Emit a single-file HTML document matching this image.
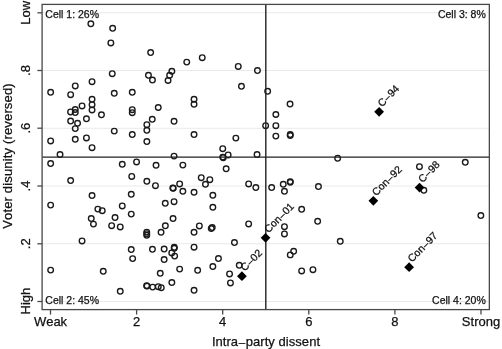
<!DOCTYPE html><html><head><meta charset="utf-8"><title>Scatter</title>
<style>html,body{margin:0;padding:0;background:#fff;}svg{display:block;}text{font-kerning:none;font-family:"Liberation Sans",Arial,Helvetica,sans-serif;fill:#111;stroke:#111;stroke-width:0.25px;}</style></head><body>
<svg width="502" height="349" viewBox="0 0 502 349">
<rect x="0" y="0" width="502" height="349" fill="#fff"/>
<line x1="42.1" x2="489.35" y1="301.5" y2="301.5" stroke="#e9e9e9" stroke-width="1.1"/>
<line x1="42.1" x2="489.35" y1="243.8" y2="243.8" stroke="#e9e9e9" stroke-width="1.1"/>
<line x1="42.1" x2="489.35" y1="186.0" y2="186.0" stroke="#e9e9e9" stroke-width="1.1"/>
<line x1="42.1" x2="489.35" y1="128.2" y2="128.2" stroke="#e9e9e9" stroke-width="1.1"/>
<line x1="42.1" x2="489.35" y1="70.5" y2="70.5" stroke="#e9e9e9" stroke-width="1.1"/>
<line x1="42.1" x2="489.35" y1="12.8" y2="12.8" stroke="#e9e9e9" stroke-width="1.1"/>
<circle cx="90.85" cy="23.8" r="2.8" fill="none" stroke="#1a1a1a" stroke-width="1.35"/>
<circle cx="112.65" cy="28.3" r="2.8" fill="none" stroke="#1a1a1a" stroke-width="1.35"/>
<circle cx="110.85" cy="42.9" r="2.8" fill="none" stroke="#1a1a1a" stroke-width="1.35"/>
<circle cx="150.65" cy="52.5" r="2.8" fill="none" stroke="#1a1a1a" stroke-width="1.35"/>
<circle cx="186.75" cy="62.1" r="2.8" fill="none" stroke="#1a1a1a" stroke-width="1.35"/>
<circle cx="202.25" cy="57.7" r="2.8" fill="none" stroke="#1a1a1a" stroke-width="1.35"/>
<circle cx="238.25" cy="66.4" r="2.8" fill="none" stroke="#1a1a1a" stroke-width="1.35"/>
<circle cx="171.85" cy="71.3" r="2.8" fill="none" stroke="#1a1a1a" stroke-width="1.35"/>
<circle cx="257.45" cy="70.6" r="2.8" fill="none" stroke="#1a1a1a" stroke-width="1.35"/>
<circle cx="112.25" cy="73.7" r="2.8" fill="none" stroke="#1a1a1a" stroke-width="1.35"/>
<circle cx="92.05" cy="81.7" r="2.8" fill="none" stroke="#1a1a1a" stroke-width="1.35"/>
<circle cx="75.25" cy="85.9" r="2.8" fill="none" stroke="#1a1a1a" stroke-width="1.35"/>
<circle cx="50.65" cy="92.3" r="2.8" fill="none" stroke="#1a1a1a" stroke-width="1.35"/>
<circle cx="70.65" cy="94.7" r="2.8" fill="none" stroke="#1a1a1a" stroke-width="1.35"/>
<circle cx="114.25" cy="93.3" r="2.8" fill="none" stroke="#1a1a1a" stroke-width="1.35"/>
<circle cx="132.25" cy="92.3" r="2.8" fill="none" stroke="#1a1a1a" stroke-width="1.35"/>
<circle cx="92.05" cy="99.3" r="2.8" fill="none" stroke="#1a1a1a" stroke-width="1.35"/>
<circle cx="92.05" cy="104.7" r="2.8" fill="none" stroke="#1a1a1a" stroke-width="1.35"/>
<circle cx="92.05" cy="109.9" r="2.8" fill="none" stroke="#1a1a1a" stroke-width="1.35"/>
<circle cx="82.05" cy="105.9" r="2.8" fill="none" stroke="#1a1a1a" stroke-width="1.35"/>
<circle cx="75.25" cy="109.5" r="2.8" fill="none" stroke="#1a1a1a" stroke-width="1.35"/>
<circle cx="75.25" cy="112.6" r="2.8" fill="none" stroke="#1a1a1a" stroke-width="1.35"/>
<circle cx="70.55" cy="111.9" r="2.8" fill="none" stroke="#1a1a1a" stroke-width="1.35"/>
<circle cx="132.25" cy="109.7" r="2.8" fill="none" stroke="#1a1a1a" stroke-width="1.35"/>
<circle cx="132.25" cy="112.7" r="2.8" fill="none" stroke="#1a1a1a" stroke-width="1.35"/>
<circle cx="101.45" cy="114.8" r="2.8" fill="none" stroke="#1a1a1a" stroke-width="1.35"/>
<circle cx="86.45" cy="118.8" r="2.8" fill="none" stroke="#1a1a1a" stroke-width="1.35"/>
<circle cx="70.65" cy="121.1" r="2.8" fill="none" stroke="#1a1a1a" stroke-width="1.35"/>
<circle cx="77.55" cy="123.3" r="2.8" fill="none" stroke="#1a1a1a" stroke-width="1.35"/>
<circle cx="75.25" cy="128.6" r="2.8" fill="none" stroke="#1a1a1a" stroke-width="1.35"/>
<circle cx="114.25" cy="131.1" r="2.8" fill="none" stroke="#1a1a1a" stroke-width="1.35"/>
<circle cx="169.65" cy="75.3" r="2.8" fill="none" stroke="#1a1a1a" stroke-width="1.35"/>
<circle cx="168.05" cy="80.5" r="2.8" fill="none" stroke="#1a1a1a" stroke-width="1.35"/>
<circle cx="148.45" cy="75.3" r="2.8" fill="none" stroke="#1a1a1a" stroke-width="1.35"/>
<circle cx="152.45" cy="80.1" r="2.8" fill="none" stroke="#1a1a1a" stroke-width="1.35"/>
<circle cx="194.05" cy="99.3" r="2.8" fill="none" stroke="#1a1a1a" stroke-width="1.35"/>
<circle cx="194.05" cy="104.3" r="2.8" fill="none" stroke="#1a1a1a" stroke-width="1.35"/>
<circle cx="158.25" cy="107.5" r="2.8" fill="none" stroke="#1a1a1a" stroke-width="1.35"/>
<circle cx="152.25" cy="119.3" r="2.8" fill="none" stroke="#1a1a1a" stroke-width="1.35"/>
<circle cx="174.05" cy="121.3" r="2.8" fill="none" stroke="#1a1a1a" stroke-width="1.35"/>
<circle cx="146.85" cy="124.7" r="2.8" fill="none" stroke="#1a1a1a" stroke-width="1.35"/>
<circle cx="146.85" cy="130.3" r="2.8" fill="none" stroke="#1a1a1a" stroke-width="1.35"/>
<circle cx="241.45" cy="86.3" r="2.8" fill="none" stroke="#1a1a1a" stroke-width="1.35"/>
<circle cx="267.65" cy="91.3" r="2.8" fill="none" stroke="#1a1a1a" stroke-width="1.35"/>
<circle cx="290.05" cy="104.1" r="2.8" fill="none" stroke="#1a1a1a" stroke-width="1.35"/>
<circle cx="275.85" cy="114.5" r="2.8" fill="none" stroke="#1a1a1a" stroke-width="1.35"/>
<circle cx="265.65" cy="125.7" r="2.8" fill="none" stroke="#1a1a1a" stroke-width="1.35"/>
<circle cx="275.85" cy="125.7" r="2.8" fill="none" stroke="#1a1a1a" stroke-width="1.35"/>
<circle cx="132.25" cy="134.5" r="2.8" fill="none" stroke="#1a1a1a" stroke-width="1.35"/>
<circle cx="50.65" cy="140.9" r="2.8" fill="none" stroke="#1a1a1a" stroke-width="1.35"/>
<circle cx="75.25" cy="139.3" r="2.8" fill="none" stroke="#1a1a1a" stroke-width="1.35"/>
<circle cx="86.45" cy="137.9" r="2.8" fill="none" stroke="#1a1a1a" stroke-width="1.35"/>
<circle cx="92.05" cy="147.7" r="2.8" fill="none" stroke="#1a1a1a" stroke-width="1.35"/>
<circle cx="60.05" cy="154.5" r="2.8" fill="none" stroke="#1a1a1a" stroke-width="1.35"/>
<circle cx="50.65" cy="163.5" r="2.8" fill="none" stroke="#1a1a1a" stroke-width="1.35"/>
<circle cx="122.25" cy="164.3" r="2.8" fill="none" stroke="#1a1a1a" stroke-width="1.35"/>
<circle cx="136.55" cy="161.9" r="2.8" fill="none" stroke="#1a1a1a" stroke-width="1.35"/>
<circle cx="131.75" cy="176.4" r="2.8" fill="none" stroke="#1a1a1a" stroke-width="1.35"/>
<circle cx="70.65" cy="180.5" r="2.8" fill="none" stroke="#1a1a1a" stroke-width="1.35"/>
<circle cx="92.05" cy="195.5" r="2.8" fill="none" stroke="#1a1a1a" stroke-width="1.35"/>
<circle cx="131.25" cy="194.3" r="2.8" fill="none" stroke="#1a1a1a" stroke-width="1.35"/>
<circle cx="146.85" cy="141.5" r="2.8" fill="none" stroke="#1a1a1a" stroke-width="1.35"/>
<circle cx="194.05" cy="134.5" r="2.8" fill="none" stroke="#1a1a1a" stroke-width="1.35"/>
<circle cx="222.75" cy="148.7" r="2.8" fill="none" stroke="#1a1a1a" stroke-width="1.35"/>
<circle cx="228.15" cy="154.9" r="2.8" fill="none" stroke="#1a1a1a" stroke-width="1.35"/>
<circle cx="222.75" cy="157.1" r="2.8" fill="none" stroke="#1a1a1a" stroke-width="1.35"/>
<circle cx="223.25" cy="157.7" r="2.8" fill="none" stroke="#1a1a1a" stroke-width="1.35"/>
<circle cx="174.05" cy="156.1" r="2.8" fill="none" stroke="#1a1a1a" stroke-width="1.35"/>
<circle cx="156.05" cy="165.3" r="2.8" fill="none" stroke="#1a1a1a" stroke-width="1.35"/>
<circle cx="182.85" cy="165.1" r="2.8" fill="none" stroke="#1a1a1a" stroke-width="1.35"/>
<circle cx="226.15" cy="168.8" r="2.8" fill="none" stroke="#1a1a1a" stroke-width="1.35"/>
<circle cx="146.85" cy="181.3" r="2.8" fill="none" stroke="#1a1a1a" stroke-width="1.35"/>
<circle cx="155.45" cy="185.7" r="2.8" fill="none" stroke="#1a1a1a" stroke-width="1.35"/>
<circle cx="201.25" cy="177.7" r="2.8" fill="none" stroke="#1a1a1a" stroke-width="1.35"/>
<circle cx="209.85" cy="179.7" r="2.8" fill="none" stroke="#1a1a1a" stroke-width="1.35"/>
<circle cx="205.45" cy="184.3" r="2.8" fill="none" stroke="#1a1a1a" stroke-width="1.35"/>
<circle cx="179.65" cy="183.9" r="2.8" fill="none" stroke="#1a1a1a" stroke-width="1.35"/>
<circle cx="172.85" cy="187.9" r="2.8" fill="none" stroke="#1a1a1a" stroke-width="1.35"/>
<circle cx="173.25" cy="188.3" r="2.8" fill="none" stroke="#1a1a1a" stroke-width="1.35"/>
<circle cx="182.85" cy="191.3" r="2.8" fill="none" stroke="#1a1a1a" stroke-width="1.35"/>
<circle cx="194.05" cy="192.3" r="2.8" fill="none" stroke="#1a1a1a" stroke-width="1.35"/>
<circle cx="212.85" cy="195.3" r="2.8" fill="none" stroke="#1a1a1a" stroke-width="1.35"/>
<circle cx="275.85" cy="136.1" r="2.8" fill="none" stroke="#1a1a1a" stroke-width="1.35"/>
<circle cx="290.25" cy="134.5" r="2.8" fill="none" stroke="#1a1a1a" stroke-width="1.35"/>
<circle cx="290.25" cy="135.5" r="2.8" fill="none" stroke="#1a1a1a" stroke-width="1.35"/>
<circle cx="235.85" cy="138.1" r="2.8" fill="none" stroke="#1a1a1a" stroke-width="1.35"/>
<circle cx="257.05" cy="154.5" r="2.8" fill="none" stroke="#1a1a1a" stroke-width="1.35"/>
<circle cx="248.65" cy="183.9" r="2.8" fill="none" stroke="#1a1a1a" stroke-width="1.35"/>
<circle cx="255.85" cy="187.5" r="2.8" fill="none" stroke="#1a1a1a" stroke-width="1.35"/>
<circle cx="271.65" cy="187.5" r="2.8" fill="none" stroke="#1a1a1a" stroke-width="1.35"/>
<circle cx="283.25" cy="184.3" r="2.8" fill="none" stroke="#1a1a1a" stroke-width="1.35"/>
<circle cx="290.25" cy="181.6" r="2.8" fill="none" stroke="#1a1a1a" stroke-width="1.35"/>
<circle cx="290.25" cy="182.3" r="2.8" fill="none" stroke="#1a1a1a" stroke-width="1.35"/>
<circle cx="284.45" cy="191.3" r="2.8" fill="none" stroke="#1a1a1a" stroke-width="1.35"/>
<circle cx="337.65" cy="158.3" r="2.8" fill="none" stroke="#1a1a1a" stroke-width="1.35"/>
<circle cx="318.45" cy="186.5" r="2.8" fill="none" stroke="#1a1a1a" stroke-width="1.35"/>
<circle cx="465.25" cy="162.3" r="2.8" fill="none" stroke="#1a1a1a" stroke-width="1.35"/>
<circle cx="419.45" cy="166.7" r="2.8" fill="none" stroke="#1a1a1a" stroke-width="1.35"/>
<circle cx="423.85" cy="190.3" r="2.8" fill="none" stroke="#1a1a1a" stroke-width="1.35"/>
<circle cx="50.65" cy="205.1" r="2.8" fill="none" stroke="#1a1a1a" stroke-width="1.35"/>
<circle cx="122.25" cy="205.9" r="2.8" fill="none" stroke="#1a1a1a" stroke-width="1.35"/>
<circle cx="97.85" cy="209.1" r="2.8" fill="none" stroke="#1a1a1a" stroke-width="1.35"/>
<circle cx="102.25" cy="210.7" r="2.8" fill="none" stroke="#1a1a1a" stroke-width="1.35"/>
<circle cx="131.25" cy="214.1" r="2.8" fill="none" stroke="#1a1a1a" stroke-width="1.35"/>
<circle cx="91.25" cy="218.5" r="2.8" fill="none" stroke="#1a1a1a" stroke-width="1.35"/>
<circle cx="115.05" cy="217.5" r="2.8" fill="none" stroke="#1a1a1a" stroke-width="1.35"/>
<circle cx="93.45" cy="224.1" r="2.8" fill="none" stroke="#1a1a1a" stroke-width="1.35"/>
<circle cx="111.65" cy="225.7" r="2.8" fill="none" stroke="#1a1a1a" stroke-width="1.35"/>
<circle cx="120.25" cy="226.9" r="2.8" fill="none" stroke="#1a1a1a" stroke-width="1.35"/>
<circle cx="82.05" cy="240.9" r="2.8" fill="none" stroke="#1a1a1a" stroke-width="1.35"/>
<circle cx="131.25" cy="249.5" r="2.8" fill="none" stroke="#1a1a1a" stroke-width="1.35"/>
<circle cx="132.65" cy="258.6" r="2.8" fill="none" stroke="#1a1a1a" stroke-width="1.35"/>
<circle cx="165.25" cy="203.3" r="2.8" fill="none" stroke="#1a1a1a" stroke-width="1.35"/>
<circle cx="174.05" cy="201.7" r="2.8" fill="none" stroke="#1a1a1a" stroke-width="1.35"/>
<circle cx="212.85" cy="207.3" r="2.8" fill="none" stroke="#1a1a1a" stroke-width="1.35"/>
<circle cx="173.05" cy="218.5" r="2.8" fill="none" stroke="#1a1a1a" stroke-width="1.35"/>
<circle cx="165.35" cy="225.8" r="2.8" fill="none" stroke="#1a1a1a" stroke-width="1.35"/>
<circle cx="199.35" cy="225.9" r="2.8" fill="none" stroke="#1a1a1a" stroke-width="1.35"/>
<circle cx="212.25" cy="227.5" r="2.8" fill="none" stroke="#1a1a1a" stroke-width="1.35"/>
<circle cx="211.25" cy="228.5" r="2.8" fill="none" stroke="#1a1a1a" stroke-width="1.35"/>
<circle cx="161.05" cy="232.3" r="2.8" fill="none" stroke="#1a1a1a" stroke-width="1.35"/>
<circle cx="194.05" cy="232.3" r="2.8" fill="none" stroke="#1a1a1a" stroke-width="1.35"/>
<circle cx="146.75" cy="232.1" r="2.8" fill="none" stroke="#1a1a1a" stroke-width="1.35"/>
<circle cx="146.75" cy="233.7" r="2.8" fill="none" stroke="#1a1a1a" stroke-width="1.35"/>
<circle cx="146.75" cy="235.3" r="2.8" fill="none" stroke="#1a1a1a" stroke-width="1.35"/>
<circle cx="152.45" cy="249.3" r="2.8" fill="none" stroke="#1a1a1a" stroke-width="1.35"/>
<circle cx="164.15" cy="249.0" r="2.8" fill="none" stroke="#1a1a1a" stroke-width="1.35"/>
<circle cx="174.25" cy="247.3" r="2.8" fill="none" stroke="#1a1a1a" stroke-width="1.35"/>
<circle cx="174.25" cy="248.3" r="2.8" fill="none" stroke="#1a1a1a" stroke-width="1.35"/>
<circle cx="171.75" cy="252.9" r="2.8" fill="none" stroke="#1a1a1a" stroke-width="1.35"/>
<circle cx="174.65" cy="256.1" r="2.8" fill="none" stroke="#1a1a1a" stroke-width="1.35"/>
<circle cx="194.05" cy="247.2" r="2.8" fill="none" stroke="#1a1a1a" stroke-width="1.35"/>
<circle cx="164.15" cy="259.5" r="2.8" fill="none" stroke="#1a1a1a" stroke-width="1.35"/>
<circle cx="218.45" cy="258.5" r="2.8" fill="none" stroke="#1a1a1a" stroke-width="1.35"/>
<circle cx="301.65" cy="209.3" r="2.8" fill="none" stroke="#1a1a1a" stroke-width="1.35"/>
<circle cx="248.65" cy="223.9" r="2.8" fill="none" stroke="#1a1a1a" stroke-width="1.35"/>
<circle cx="284.45" cy="226.7" r="2.8" fill="none" stroke="#1a1a1a" stroke-width="1.35"/>
<circle cx="284.45" cy="233.9" r="2.8" fill="none" stroke="#1a1a1a" stroke-width="1.35"/>
<circle cx="234.45" cy="242.5" r="2.8" fill="none" stroke="#1a1a1a" stroke-width="1.35"/>
<circle cx="293.65" cy="251.3" r="2.8" fill="none" stroke="#1a1a1a" stroke-width="1.35"/>
<circle cx="290.25" cy="254.9" r="2.8" fill="none" stroke="#1a1a1a" stroke-width="1.35"/>
<circle cx="317.65" cy="221.3" r="2.8" fill="none" stroke="#1a1a1a" stroke-width="1.35"/>
<circle cx="340.25" cy="241.3" r="2.8" fill="none" stroke="#1a1a1a" stroke-width="1.35"/>
<circle cx="480.85" cy="215.5" r="2.8" fill="none" stroke="#1a1a1a" stroke-width="1.35"/>
<circle cx="50.65" cy="270.1" r="2.8" fill="none" stroke="#1a1a1a" stroke-width="1.35"/>
<circle cx="103.25" cy="271.3" r="2.8" fill="none" stroke="#1a1a1a" stroke-width="1.35"/>
<circle cx="120.25" cy="291.3" r="2.8" fill="none" stroke="#1a1a1a" stroke-width="1.35"/>
<circle cx="212.85" cy="266.5" r="2.8" fill="none" stroke="#1a1a1a" stroke-width="1.35"/>
<circle cx="179.65" cy="269.1" r="2.8" fill="none" stroke="#1a1a1a" stroke-width="1.35"/>
<circle cx="197.65" cy="270.3" r="2.8" fill="none" stroke="#1a1a1a" stroke-width="1.35"/>
<circle cx="160.25" cy="273.3" r="2.8" fill="none" stroke="#1a1a1a" stroke-width="1.35"/>
<circle cx="171.85" cy="282.5" r="2.8" fill="none" stroke="#1a1a1a" stroke-width="1.35"/>
<circle cx="146.65" cy="285.7" r="2.8" fill="none" stroke="#1a1a1a" stroke-width="1.35"/>
<circle cx="147.05" cy="286.1" r="2.8" fill="none" stroke="#1a1a1a" stroke-width="1.35"/>
<circle cx="152.65" cy="287.1" r="2.8" fill="none" stroke="#1a1a1a" stroke-width="1.35"/>
<circle cx="158.25" cy="286.7" r="2.8" fill="none" stroke="#1a1a1a" stroke-width="1.35"/>
<circle cx="161.25" cy="287.7" r="2.8" fill="none" stroke="#1a1a1a" stroke-width="1.35"/>
<circle cx="194.05" cy="290.3" r="2.8" fill="none" stroke="#1a1a1a" stroke-width="1.35"/>
<circle cx="229.55" cy="273.9" r="2.8" fill="none" stroke="#1a1a1a" stroke-width="1.35"/>
<circle cx="230.45" cy="282.9" r="2.8" fill="none" stroke="#1a1a1a" stroke-width="1.35"/>
<circle cx="239.25" cy="265.3" r="2.8" fill="none" stroke="#1a1a1a" stroke-width="1.35"/>
<circle cx="301.65" cy="270.9" r="2.8" fill="none" stroke="#1a1a1a" stroke-width="1.35"/>
<circle cx="312.95" cy="269.7" r="2.8" fill="none" stroke="#1a1a1a" stroke-width="1.35"/>
<line x1="265.8" x2="265.8" y1="4.4" y2="309.6" stroke="#222" stroke-width="1.4"/>
<line x1="42.1" x2="489.35" y1="157.1" y2="157.1" stroke="#222" stroke-width="1.4"/>
<rect x="42.1" y="4.4" width="447.25" height="305.20000000000005" fill="none" stroke="#484848" stroke-width="1.3"/>
<line x1="50.5" x2="50.5" y1="309.6" y2="314.6" stroke="#484848" stroke-width="1.3"/>
<line x1="136.6" x2="136.6" y1="309.6" y2="314.6" stroke="#484848" stroke-width="1.3"/>
<line x1="222.7" x2="222.7" y1="309.6" y2="314.6" stroke="#484848" stroke-width="1.3"/>
<line x1="308.8" x2="308.8" y1="309.6" y2="314.6" stroke="#484848" stroke-width="1.3"/>
<line x1="394.9" x2="394.9" y1="309.6" y2="314.6" stroke="#484848" stroke-width="1.3"/>
<line x1="481.0" x2="481.0" y1="309.6" y2="314.6" stroke="#484848" stroke-width="1.3"/>
<line x1="37.4" x2="42.1" y1="301.5" y2="301.5" stroke="#484848" stroke-width="1.3"/>
<line x1="37.4" x2="42.1" y1="243.8" y2="243.8" stroke="#484848" stroke-width="1.3"/>
<line x1="37.4" x2="42.1" y1="186.0" y2="186.0" stroke="#484848" stroke-width="1.3"/>
<line x1="37.4" x2="42.1" y1="128.2" y2="128.2" stroke="#484848" stroke-width="1.3"/>
<line x1="37.4" x2="42.1" y1="70.5" y2="70.5" stroke="#484848" stroke-width="1.3"/>
<line x1="37.4" x2="42.1" y1="12.8" y2="12.8" stroke="#484848" stroke-width="1.3"/>
<text x="50.5" y="326.4" font-size="13" text-anchor="middle">Weak</text>
<text x="136.6" y="326.4" font-size="13" text-anchor="middle">2</text>
<text x="222.7" y="326.4" font-size="13" text-anchor="middle">4</text>
<text x="308.8" y="326.4" font-size="13" text-anchor="middle">6</text>
<text x="394.9" y="326.4" font-size="13" text-anchor="middle">8</text>
<text x="481.0" y="326.4" font-size="13" text-anchor="middle">Strong</text>
<text transform="translate(30.4,301.1) rotate(-90)" font-size="13" text-anchor="middle">High</text>
<text transform="translate(30.4,243.8) rotate(-90)" font-size="13" text-anchor="middle">.2</text>
<text transform="translate(30.4,186.0) rotate(-90)" font-size="13" text-anchor="middle">.4</text>
<text transform="translate(30.4,128.2) rotate(-90)" font-size="13" text-anchor="middle">.6</text>
<text transform="translate(30.4,70.5) rotate(-90)" font-size="13" text-anchor="middle">.8</text>
<text transform="translate(30.4,12.8) rotate(-90)" font-size="13" text-anchor="middle">Low</text>
<text x="212.0" y="345.6" font-size="13">Intra<tspan dx="0.7" font-size="11.5">–</tspan><tspan dx="0.6" font-size="13" letter-spacing="0.05">party dissent</tspan></text>
<text transform="translate(11.6,156.0) rotate(-90)" font-size="13" text-anchor="middle" letter-spacing="0.16">Voter disunity (reversed)</text>
<text x="45.3" y="17.6" font-size="10.5">Cell 1: 26%</text>
<text x="45.3" y="303.7" font-size="10.5">Cell 2: 45%</text>
<text x="485.8" y="17.6" font-size="10.5" text-anchor="end">Cell 3: 8%</text>
<text x="485.8" y="303.7" font-size="10.5" text-anchor="end">Cell 4: 20%</text>
<path d="M374.2 111.8L379.15 106.9L384.0 111.8L379.15 116.7Z" fill="#000"/>
<text transform="translate(381.9,107.4) rotate(-45)" font-size="10.5">C<tspan dx="0.5" font-size="9.5">–</tspan><tspan dx="0.5" font-size="10.5">94</tspan></text>
<path d="M368.5 200.8L373.35 195.9L378.2 200.8L373.35 205.7Z" fill="#000"/>
<text transform="translate(376.2,196.4) rotate(-45)" font-size="10.5">Con<tspan dx="0.5" font-size="9.5">–</tspan><tspan dx="0.5" font-size="10.5">92</tspan></text>
<path d="M414.7 187.6L419.55 182.7L424.4 187.6L419.55 192.5Z" fill="#000"/>
<text transform="translate(422.4,183.2) rotate(-45)" font-size="10.5">C<tspan dx="0.5" font-size="9.5">–</tspan><tspan dx="0.5" font-size="10.5">98</tspan></text>
<path d="M260.7 237.8L265.55 232.9L270.4 237.8L265.55 242.7Z" fill="#000"/>
<text transform="translate(268.4,233.4) rotate(-45)" font-size="10.5">Con<tspan dx="0.5" font-size="9.5">–</tspan><tspan dx="0.5" font-size="10.5">01</tspan></text>
<path d="M237.0 276.2L241.95 271.3L246.8 276.2L241.95 281.1Z" fill="#000"/>
<text transform="translate(244.8,271.8) rotate(-45)" font-size="10.5">C<tspan dx="0.5" font-size="9.5">–</tspan><tspan dx="0.5" font-size="10.5">02</tspan></text>
<path d="M404.2 267.2L409.15 262.3L414.0 267.2L409.15 272.1Z" fill="#000"/>
<text transform="translate(411.9,262.8) rotate(-45)" font-size="10.5">Con<tspan dx="0.5" font-size="9.5">–</tspan><tspan dx="0.5" font-size="10.5">97</tspan></text>
</svg></body></html>
